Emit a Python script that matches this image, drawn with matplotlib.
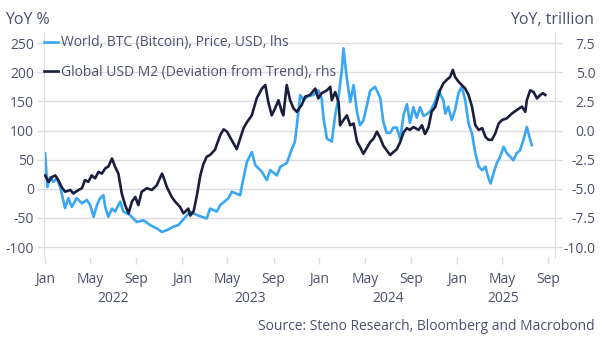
import matplotlib
matplotlib.use("Agg")
import matplotlib.pyplot as plt
import matplotlib.dates as mdates
import matplotlib.transforms as mtransforms
import numpy as np
import pandas as pd

plt.rcParams['font.family'] = ['Open Sans', 'DejaVu Sans']
plt.rcParams['axes.unicode_minus'] = False

# ---------------- data ----------------
btc_dates = [
    "2022-01-01","2022-01-07","2022-01-14","2022-01-23","2022-02-01","2022-02-10","2022-02-23","2022-03-04",
    "2022-03-13","2022-03-26","2022-04-09","2022-04-22","2022-05-01","2022-05-10","2022-05-19","2022-05-27",
    "2022-06-05","2022-06-10","2022-06-18","2022-06-28","2022-07-06","2022-07-20","2022-07-28","2022-08-15",
    "2022-09-02","2022-09-20","2022-10-07","2022-10-25","2022-11-08","2022-11-21","2022-12-08","2022-12-22",
    "2023-01-22","2023-02-09","2023-03-07","2023-03-16","2023-04-03","2023-04-12","2023-05-04","2023-05-13",
    "2023-06-04","2023-06-09","2023-06-22","2023-07-05","2023-07-14","2023-08-01","2023-08-14","2023-08-23",
    "2023-09-10","2023-09-19","2023-10-06","2023-10-20","2023-10-28","2023-11-06","2023-11-11","2023-11-20",
    "2023-11-29","2023-12-16","2023-12-29","2024-01-07","2024-01-12","2024-01-21","2024-02-03","2024-02-12",
    "2024-02-21","2024-03-01","2024-03-05","2024-03-14","2024-03-23","2024-04-01","2024-04-10","2024-04-18",
    "2024-04-27","2024-05-06","2024-05-15","2024-05-28","2024-06-11","2024-06-19","2024-06-28","2024-07-07",
    "2024-07-16","2024-07-25","2024-08-03","2024-08-12","2024-08-21","2024-08-29","2024-09-07","2024-09-16",
    "2024-09-25","2024-10-04","2024-10-13","2024-10-22","2024-11-04","2024-11-13","2024-11-26","2024-12-01",
    "2024-12-09","2024-12-18","2024-12-27","2025-01-05","2025-01-14","2025-01-23","2025-02-01","2025-02-10",
    "2025-02-19","2025-02-28","2025-03-09","2025-03-18","2025-03-26","2025-04-01","2025-04-08","2025-04-17",
    "2025-04-26","2025-05-05","2025-05-14","2025-05-23","2025-05-31","2025-06-09","2025-06-18","2025-06-27",
    "2025-07-06","2025-07-15","2025-07-19",
]
btc_yoy = [
    61, 3, 20, 12, 18, 3, -33, -16,
    -31, -16, -25, -19, -28, -48, -28, -16,
    -11, -31, -48, -34, -39, -22, -39, -45,
    -57, -54, -62, -68, -74, -71, -65, -62,
    -39, -45, -51, -34, -39, -28, -16, -5,
    -11, 6, 46, 63, 41, 29, 15, 32,
    23, 38, 44, 69, 81, 132, 161, 152,
    158, 161, 169, 155, 121, 86, 81, 126,
    158, 206, 241, 189, 149, 178, 132, 109,
    117, 142, 168, 175, 156, 115, 96, 96,
    105, 105, 85, 127, 145, 113, 140, 122,
    140, 125, 128, 133, 150, 168, 152, 129,
    141, 118, 135, 164, 175, 152, 112, 95,
    61, 38, 32, 38, 18, 9, 26, 44,
    55, 72, 61, 55, 49, 61, 66, 84,
    106, 84, 75,
]

m2_dates = [
    "2022-01-01","2022-01-10","2022-01-19","2022-01-28","2022-02-05","2022-02-14","2022-02-23","2022-03-09",
    "2022-03-17","2022-03-31","2022-04-09","2022-04-17","2022-04-26","2022-05-05","2022-05-14","2022-05-23",
    "2022-06-01","2022-06-10","2022-06-18","2022-06-28","2022-07-06","2022-07-15","2022-07-24","2022-08-02",
    "2022-08-11","2022-08-20","2022-08-29","2022-09-06","2022-09-15","2022-09-29","2022-10-12","2022-10-25",
    "2022-11-08","2022-11-12","2022-11-21","2022-12-04","2022-12-13","2022-12-26","2023-01-04","2023-01-17",
    "2023-01-22","2023-01-31","2023-02-09","2023-02-18","2023-02-26","2023-03-07","2023-03-16","2023-03-29",
    "2023-04-12","2023-04-21","2023-04-30","2023-05-13","2023-05-26","2023-06-04","2023-06-13","2023-06-22",
    "2023-07-05","2023-07-18","2023-08-01","2023-08-10","2023-08-18","2023-08-27","2023-09-05","2023-09-14",
    "2023-09-23","2023-09-27","2023-10-06","2023-10-15","2023-10-24","2023-11-02","2023-11-15","2023-11-24",
    "2023-12-07","2023-12-21","2023-12-29","2024-01-07","2024-01-21","2024-01-30","2024-02-03","2024-02-12",
    "2024-02-21","2024-02-25","2024-03-05","2024-03-14","2024-03-23","2024-04-01","2024-04-10","2024-04-18",
    "2024-04-27","2024-05-06","2024-05-15","2024-05-24","2024-06-02","2024-06-11","2024-06-19","2024-06-28",
    "2024-07-07","2024-07-16","2024-07-25","2024-08-03","2024-08-12","2024-08-21","2024-08-29","2024-09-07",
    "2024-09-21","2024-09-30","2024-10-08","2024-10-17","2024-10-26","2024-11-04","2024-11-17","2024-11-26",
    "2024-12-05","2024-12-14","2024-12-21","2024-12-27","2025-01-05","2025-01-14","2025-01-23","2025-02-01",
    "2025-02-10","2025-02-19","2025-02-28","2025-03-09","2025-03-18","2025-03-26","2025-04-04","2025-04-13",
    "2025-04-22","2025-05-01","2025-05-14","2025-05-27","2025-06-09","2025-06-23","2025-07-02","2025-07-06",
    "2025-07-15","2025-07-24","2025-08-02","2025-08-11","2025-08-18","2025-08-24",
]
m2_dev = [
    -3.85, -4.4, -4.0, -3.85, -4.25, -4.85, -5.25, -5.1,
    -5.4, -5.1, -4.95, -4.25, -4.4, -3.85, -4.1, -3.55,
    -3.7, -3.25, -3.1, -2.4, -3.1, -3.7, -5.4, -6.4,
    -7.1, -6.1, -5.7, -6.4, -5.25, -4.95, -5.1, -4.7,
    -3.7, -4.0, -4.85, -5.7, -6.1, -6.55, -7.1, -6.7,
    -7.3, -6.95, -5.55, -3.85, -2.9, -2.25, -2.1, -1.65,
    -0.4, 0.1, -0.1, -0.85, -1.6, -0.7, 0.2, 0.7,
    1.3, 2.75, 3.6, 3.9, 2.45, 1.3, 1.9, 2.6,
    1.6, 1.3, 3.9, 2.6, 1.9, 1.6, 2.2, 2.9,
    3.05, 3.6, 2.75, 3.2, 3.45, 3.75, 2.6, 3.3,
    2.45, 0.45, 0.9, 1.3, 0.45, 0.6, -0.95, -1.4,
    -2.0, -1.5, -1.0, -0.7, -0.1, -0.65, -1.3, -1.7,
    -2.1, -1.85, -1.6, -1.0, -0.15, 0.2, 0.05, 0.3,
    0.05, 0.45, -0.3, 0.25, 1.65, 2.0, 3.45, 4.05,
    4.35, 4.6, 5.2, 4.6, 4.2, 3.9, 3.6, 3.05,
    2.05, 0.45, 0.05, 0.2, -0.55, -0.8, -0.8, -0.25,
    0.6, 0.9, 1.05, 1.45, 1.75, 2.05, 1.6, 2.6,
    3.45, 3.3, 2.75, 3.05, 3.2, 3.05,
]

left_ticks = [250, 200, 150, 100, 50, 0, -50, -100]
right_ticks = [7.5, 5.0, 2.5, 0.0, -2.5, -5.0, -7.5, -10.0]
year_labels = ["2022", "2023", "2024", "2025"]
year_label_pos = ["2022-07-02", "2023-07-02", "2024-07-02", "2025-05-03"]

label_btc = "World, BTC (Bitcoin), Price, USD, lhs"
label_m2 = "Global USD M2 (Deviation from Trend), rhs"

# ---------------- style ----------------
C_BTC = "#3aa7f4"
C_M2 = "#1b1f3d"
C_TXT = "#4d5268"
C_GRID = "#dcdce2"

fig = plt.figure(figsize=(6.02, 3.44), dpi=100)
ax = fig.add_axes([44/602, 1-257/344, (555-44)/602, (257-32)/344])
ax2 = ax.twinx()

bd = pd.to_datetime(btc_dates)
md = pd.to_datetime(m2_dates)

l1, = ax.plot(bd, btc_yoy, color=C_BTC, lw=1.9, solid_joinstyle='round')
l2, = ax2.plot(md, m2_dev, color=C_M2, lw=1.9, solid_joinstyle='round')

ax.set_ylim(-117, 269)
ax2.set_ylim(-117/20 - 5, 269/20 - 5)
ax.set_xlim(pd.Timestamp("2021-12-29"), pd.Timestamp("2025-09-19"))

ax.set_yticks(left_ticks)
ax.set_yticklabels([f"{v:d}" for v in left_ticks])
ax2.set_yticks(right_ticks)
ax2.set_yticklabels([f"{v:.1f}" for v in right_ticks])

ax.yaxis.grid(True, color=C_GRID, lw=1.0)
ax.set_axisbelow(True)

ax.xaxis.set_major_locator(mdates.MonthLocator(bymonth=[1, 5, 9]))
ax.xaxis.set_major_formatter(mdates.DateFormatter("%b"))

for a in (ax, ax2):
    for s in a.spines.values():
        s.set_visible(False)
    a.tick_params(colors=C_GRID, labelcolor=C_TXT, labelsize=10, length=5, width=1)
ax.spines['left'].set_visible(True)
ax.spines['left'].set_color(C_GRID)
ax2.spines['right'].set_visible(True)
ax2.spines['right'].set_color(C_GRID)
ax.tick_params(axis='y', pad=2)
ax2.tick_params(axis='y', pad=24)
for t in ax2.get_yticklabels():
    t.set_horizontalalignment('right')
ax.tick_params(axis='x', pad=6)

trans = mtransforms.blended_transform_factory(ax.transData, ax.transAxes)
for lab, pos in zip(year_labels, year_label_pos):
    ax.text(pd.Timestamp(pos), -0.185, lab, transform=trans, ha='center', va='center',
            fontsize=10, color=C_TXT)

fig.text(5/602, 1-20/344, "YoY %", ha='left', va='center', fontsize=11.5, color=C_TXT)
fig.text(594/602, 1-20/344, "YoY, trillion", ha='right', va='center', fontsize=11.5, color=C_TXT)
fig.text(595/602, 1-326/344, "Source: Steno Research, Bloomberg and Macrobond", ha='right',
         va='center', fontsize=10, color=C_TXT)

leg = ax2.legend([l1, l2], [label_btc, label_m2], loc='upper left', bbox_to_anchor=(0.0, 0.985),
                 frameon=False, fontsize=10, handlelength=1.0, handletextpad=0.2,
                 borderpad=0, borderaxespad=0, labelspacing=1.05, labelcolor=C_TXT)
for t in leg.get_texts():
    t.set_color(C_TXT)

fig.savefig("out.png", dpi=100)
